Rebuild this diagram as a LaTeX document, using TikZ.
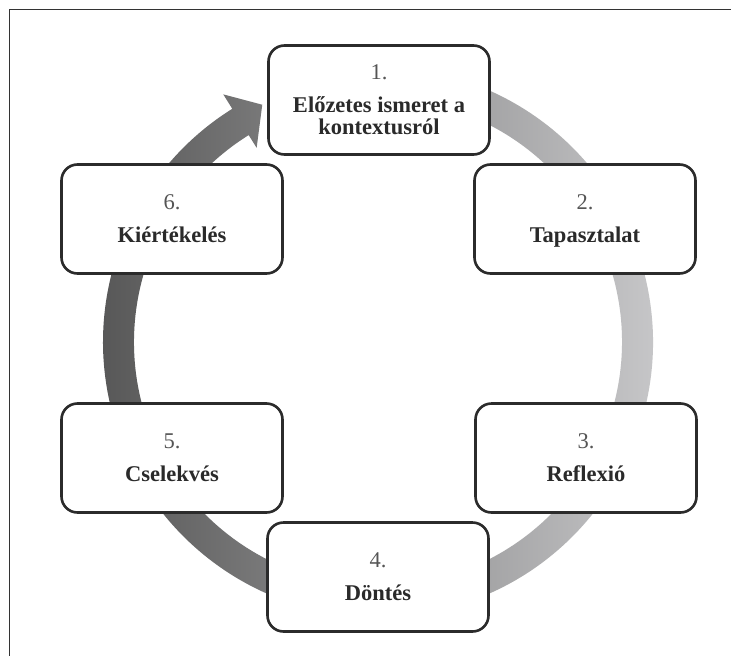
\documentclass[tikz,border=0pt]{standalone}
\usepackage{fontspec}
\setmainfont{Liberation Serif}
\definecolor{framegray}{HTML}{333333}
\definecolor{boxline}{HTML}{2B2B2B}
\definecolor{numgray}{HTML}{555555}
\definecolor{labelgray}{HTML}{2A2A2A}
\definecolor{ringdark}{HTML}{555555}
\definecolor{ringmid}{HTML}{A0A0A2}
\definecolor{ringlight}{HTML}{CACACC}
\tikzset{
  stage/.style={rectangle, rounded corners=16pt, draw=boxline, line width=2.6pt,
    fill=white, minimum width=221pt, minimum height=109pt, align=center,
    text depth=0pt, text=labelgray,
    font=\fontsize{22.5}{22}\selectfont},
}
\newcommand{\stagenum}[1]{{\color{numgray}#1}\\[11pt]}
\begin{document}
\begin{tikzpicture}[x=1pt, y=-1pt]
  % canvas and the two visible frame edges
  \fill[white] (0,0) rectangle (731,656);
  \useasboundingbox (0,0) rectangle (731,656);
  \coordinate (ftl) at (9.5,9.5);
  \coordinate (ftr) at (731,9.5);
  \coordinate (fbl) at (9.5,656);
  \draw[framegray, line width=1.8pt] (ftr) -- (ftl) -- (fbl);

  % circular arrow, shaded from dark (left) to light (right)
  \coordinate (c) at (378,342);
  \shade[left color=ringdark, middle color=ringmid, right color=ringlight]
    ([shift={(-100:275)}]c) arc[start angle=-100, end angle=238, radius=275]
    -- ([shift={(238:292)}]c)
    -- ([shift={(244:264)}]c)
    -- ([shift={(238:229)}]c)
    -- ([shift={(238:244)}]c)
    arc[start angle=238, end angle=-100, radius=244]
    -- cycle;

  % the six stages
  \node[stage] (s1) at (379,100) {\stagenum{1.}\textbf{Előzetes ismeret a}\\\textbf{kontextusról}};
  \node[stage] (s2) at (585,219) {\stagenum{2.}\textbf{Tapasztalat}};
  \node[stage] (s3) at (586,458) {\stagenum{3.}\textbf{Reflexió}};
  \node[stage] (s4) at (378,577) {\stagenum{4.}\textbf{Döntés}};
  \node[stage] (s5) at (172,458) {\stagenum{5.}\textbf{Cselekvés}};
  \node[stage] (s6) at (172,219) {\stagenum{6.}\textbf{Kiértékelés}};
\end{tikzpicture}
\end{document}
